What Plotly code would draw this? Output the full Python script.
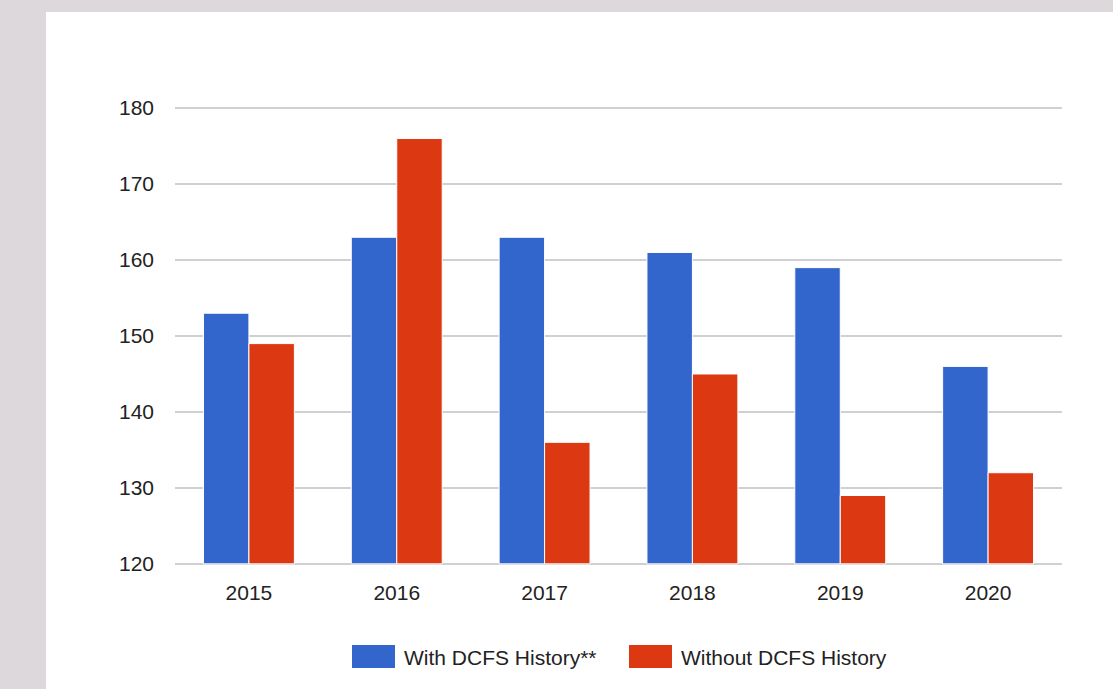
import plotly.graph_objects as go

years = ["2015", "2016", "2017", "2018", "2019", "2020"]
with_dcfs = [153, 163, 163, 161, 159, 146]
without_dcfs = [149, 176, 136, 145, 129, 132]
series_names = ["With DCFS History**", "Without DCFS History"]
colors = ["#3366cc", "#dc3912"]
y_ticks = [120, 130, 140, 150, 160, 170, 180]

W, H = 1113, 689
ml, mr, mt, mb = 175, 51, 107, 124
pw, ph = W - ml - mr, H - mt - mb

def px_x(p):
    return (p - ml) / pw

def px_y(p):
    return (H - mb - p) / ph

fig = go.Figure()
for name, vals, col in zip(series_names, [with_dcfs, without_dcfs], colors):
    fig.add_trace(go.Bar(
        x=years, y=[v - 120 for v in vals], base=120, name=name,
        marker=dict(color=col, line=dict(color="white", width=1)),
        showlegend=False,
    ))

shapes = [
    dict(type="rect", xref="paper", yref="paper", x0=px_x(46), x1=px_x(1200),
         y0=px_y(12), y1=px_y(800), fillcolor="white", line=dict(width=0), layer="below"),
]
annotations = []
legend_pos = [(352, 402), (629, 679)]
for (sx, tx), name, col in zip(legend_pos, series_names, colors):
    shapes.append(dict(type="rect", xref="paper", yref="paper",
                       x0=px_x(sx), x1=px_x(sx + 43), y0=px_y(668), y1=px_y(645),
                       fillcolor=col, line=dict(width=0)))
    annotations.append(dict(xref="paper", yref="paper", x=px_x(tx), y=px_y(657),
                            text=name, showarrow=False, xanchor="left", yanchor="middle",
                            font=dict(size=21, color="#222222", family="Liberation Sans")))

fig.update_layout(
    width=W, height=H,
    margin=dict(l=ml, r=mr, t=mt, b=mb),
    paper_bgcolor="#dcd8db",
    plot_bgcolor="white",
    barmode="group",
    bargap=0.385,
    bargroupgap=0.0,
    font=dict(family="Liberation Sans", size=21, color="#222222"),
    shapes=shapes,
    annotations=annotations,
    xaxis=dict(showgrid=False, showline=False, ticks="", ticklabelstandoff=13,
               tickfont=dict(size=21, color="#222222")),
    yaxis=dict(range=[119.85, 180.15], tickvals=y_ticks, showgrid=True, gridcolor="#d0d0d0",
               gridwidth=2, zeroline=False, showline=False, ticks="",
               ticklabelstandoff=20, tickfont=dict(size=21, color="#222222")),
)

fig.write_html("out.html", config={"displayModeBar": False},
               post_script="document.body.style.margin='0';")
